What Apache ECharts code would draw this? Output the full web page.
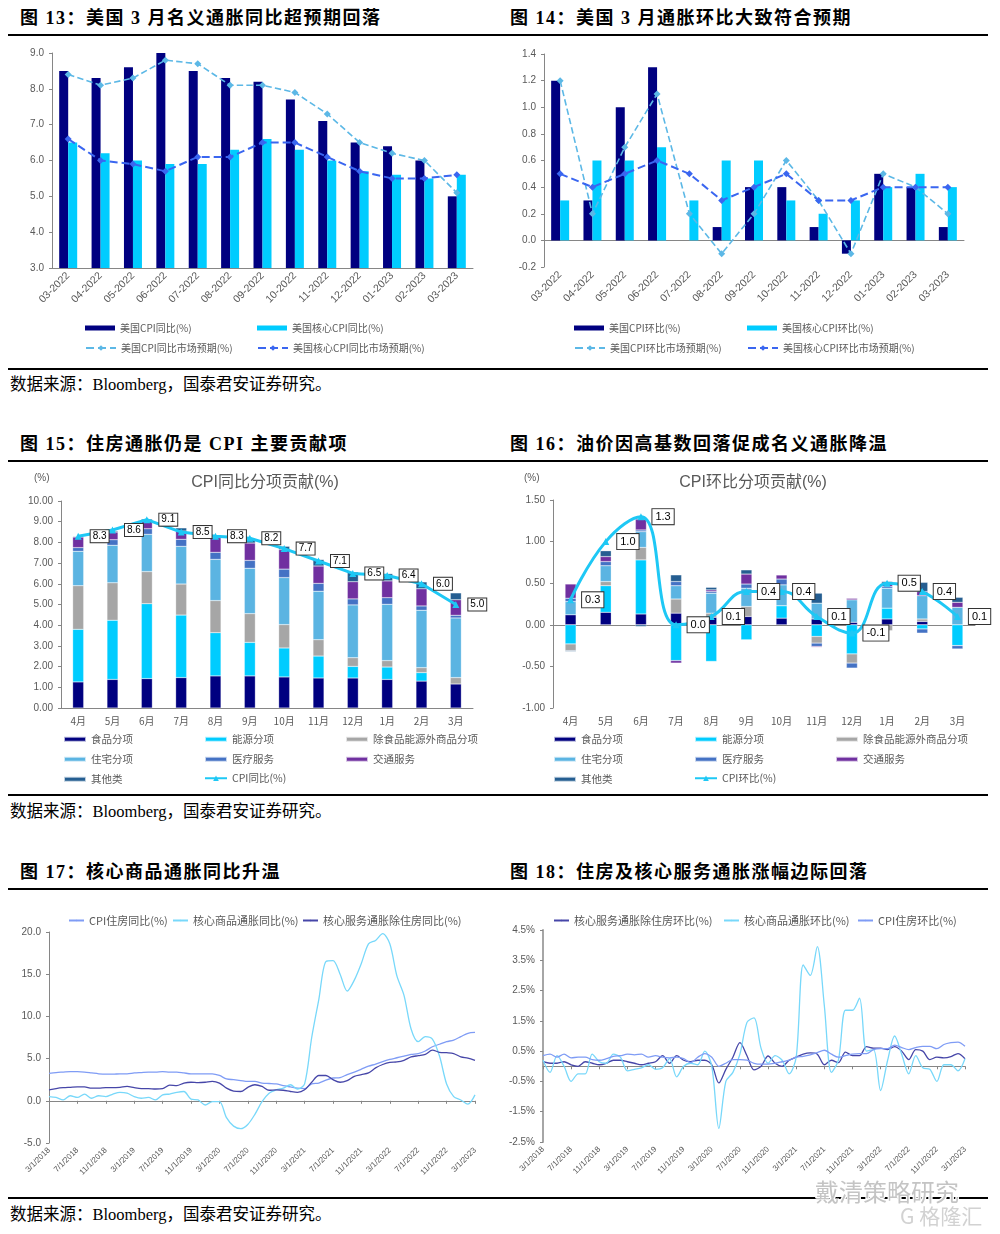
<!DOCTYPE html>
<html><head><meta charset="utf-8">
<script src="https://cdn.jsdelivr.net/npm/echarts/dist/echarts.min.js"></script>
<style>
body{margin:0;background:#fff;width:1000px;height:1234px;position:relative;overflow:hidden;font-family:"Liberation Sans","Noto Sans CJK SC",sans-serif;}
.t{position:absolute;font-family:"Liberation Serif","Noto Sans CJK SC",serif;font-weight:bold;font-size:18px;letter-spacing:1.5px;color:#000;white-space:nowrap;line-height:20px;}
.rule{position:absolute;left:8px;width:980px;height:2px;background:#000;}
.src{position:absolute;left:10px;font-family:"Liberation Serif","Noto Sans CJK SC",serif;font-size:16.5px;color:#000;white-space:nowrap;line-height:20px;}
.c{position:absolute;}
.wm{position:absolute;font-family:"Noto Sans CJK SC",sans-serif;color:#c4c4c4;white-space:nowrap;text-shadow:-1px -1px 0 #fff,1px -1px 0 #fff,-1px 1px 0 #fff,1px 1px 0 #fff;}
</style></head>
<body>
<div class="t" style="left:20px;top:8px">图 13：美国 3 月名义通胀同比超预期回落</div>
<div class="t" style="left:510px;top:8px">图 14：美国 3 月通胀环比大致符合预期</div>
<div class="rule" style="top:34px"></div>
<div class="c" id="c13" style="left:0;top:40px;width:500px;height:325px"></div>
<div class="c" id="c14" style="left:500px;top:40px;width:500px;height:325px"></div>
<div class="rule" style="top:368px"></div>
<div class="src" style="top:375px">数据来源：Bloomberg，国泰君安证券研究。</div>

<div class="t" style="left:20px;top:434px">图 15：住房通胀仍是 CPI 主要贡献项</div>
<div class="t" style="left:510px;top:434px">图 16：油价因高基数回落促成名义通胀降温</div>
<div class="rule" style="top:460px"></div>
<div class="c" id="c15" style="left:0;top:462px;width:500px;height:330px"></div>
<div class="c" id="c16" style="left:500px;top:462px;width:500px;height:330px"></div>
<div class="rule" style="top:794px"></div>
<div class="src" style="top:802px">数据来源：Bloomberg，国泰君安证券研究。</div>

<div class="t" style="left:20px;top:862px">图 17：核心商品通胀同比升温</div>
<div class="t" style="left:510px;top:862px">图 18：住房及核心服务通胀涨幅边际回落</div>
<div class="rule" style="top:888px"></div>
<div class="c" id="c17" style="left:0;top:890px;width:500px;height:305px"></div>
<div class="c" id="c18" style="left:500px;top:890px;width:500px;height:305px"></div>
<div class="rule" style="top:1197px"></div>
<div class="src" style="top:1205px">数据来源：Bloomberg，国泰君安证券研究。</div>
<div class="wm" style="left:815px;top:1173px;font-size:24px;">戴清策略研究</div>
<div class="wm" style="left:900px;top:1200px;font-size:21px;color:#d2d2d2">G 格隆汇</div>

<script>
// ---------- data: 图13 / 图14 ----------
const months13 = ['03-2022','04-2022','05-2022','06-2022','07-2022','08-2022','09-2022','10-2022','11-2022','12-2022','01-2023','02-2023','03-2023'];
const cpiYoY      = [8.5, 8.3, 8.6, 9.1, 8.5, 8.3, 8.2, 7.7, 7.1, 6.5, 6.4, 6.0, 5.0];
const coreYoY     = [6.5, 6.2, 6.0, 5.9, 5.9, 6.3, 6.6, 6.3, 6.0, 5.7, 5.6, 5.5, 5.6];
const cpiYoYExp   = [8.4, 8.1, 8.3, 8.8, 8.7, 8.1, 8.1, 7.9, 7.3, 6.5, 6.2, 6.0, 5.1];
const coreYoYExp  = [6.6, 6.0, 5.9, 5.7, 6.1, 6.1, 6.5, 6.5, 6.1, 5.7, 5.5, 5.5, 5.6];
const cpiMoM      = [1.2, 0.3, 1.0, 1.3, 0.0, 0.1, 0.4, 0.4, 0.1, -0.1, 0.5, 0.4, 0.1];
const coreMoM     = [0.3, 0.6, 0.6, 0.7, 0.3, 0.6, 0.6, 0.3, 0.2, 0.3, 0.4, 0.5, 0.4];
const cpiMoMExp   = [1.2, 0.2, 0.7, 1.1, 0.2, -0.1, 0.2, 0.6, 0.3, -0.1, 0.5, 0.4, 0.2];
const coreMoMExp  = [0.5, 0.4, 0.5, 0.6, 0.5, 0.3, 0.4, 0.5, 0.3, 0.3, 0.4, 0.4, 0.4];
const yTicks13 = [3, 9, 1];
const yTicks14 = [-0.2, 1.4, 0.2];

// ---------- data: 图15 / 图16 ----------
const months15 = ['4月','5月','6月','7月','8月','9月','10月','11月','12月','1月','2月','3月'];
const compNames = ['食品分项','能源分项','除食品能源外商品分项','住宅分项','医疗服务','交通服务','其他类'];
const yoyFood      = [1.26, 1.38, 1.42, 1.47, 1.55, 1.55, 1.50, 1.45, 1.45, 1.38, 1.30, 1.16];
const yoyEnergy    = [2.54, 2.86, 3.62, 3.02, 2.09, 1.62, 1.40, 1.06, 0.56, 0.60, 0.41, -0.03];
const yoyGoods     = [2.11, 1.81, 1.55, 1.50, 1.55, 1.39, 1.13, 0.79, 0.42, 0.31, 0.24, 0.31];
const yoyHousing   = [1.66, 1.81, 1.80, 1.82, 1.99, 2.19, 2.27, 2.34, 2.55, 2.72, 2.77, 2.88];
const yoyMedical   = [0.18, 0.27, 0.27, 0.34, 0.34, 0.38, 0.41, 0.38, 0.29, 0.32, 0.21, 0.13];
const yoyTransport = [0.51, 0.37, 0.41, 0.40, 0.71, 0.84, 0.94, 0.84, 0.83, 0.81, 0.83, 0.75];
const yoyOther     = [0.03, 0.05, 0.06, 0.15, 0.11, 0.18, 0.16, 0.31, 0.47, 0.35, 0.33, 0.33];
const yoyCPI       = [8.3, 8.6, 9.1, 8.5, 8.3, 8.2, 7.7, 7.1, 6.5, 6.4, 6.0, 5.0];
const momFood      = [0.12, 0.15, 0.13, 0.14, 0.09, 0.10, 0.08, 0.07, 0.03, 0.07, 0.04, 0.00];
const momEnergy    = [-0.23, 0.32, 0.65, -0.43, -0.44, -0.18, 0.15, -0.14, -0.35, 0.13, -0.05, -0.25];
const momGoods     = [-0.08, 0.05, 0.15, 0.17, 0.05, 0.12, 0.00, -0.08, -0.11, -0.07, 0.03, 0.00];
const momHousing   = [0.16, 0.19, 0.19, 0.16, 0.24, 0.22, 0.25, 0.19, 0.27, 0.24, 0.28, 0.21];
const momMedical   = [0.04, 0.05, 0.02, 0.05, 0.02, 0.05, 0.07, -0.04, -0.06, 0.02, -0.05, -0.04];
const momTransport = [0.17, 0.06, 0.13, -0.03, 0.02, 0.12, 0.05, -0.01, 0.02, 0.04, 0.05, 0.06];
const momOther     = [-0.01, 0.07, -0.02, 0.08, 0.03, 0.05, 0.00, 0.12, 0.00, 0.02, 0.11, 0.06];
const momCPI       = [0.3, 1.0, 1.3, 0.0, 0.1, 0.4, 0.4, 0.1, -0.1, 0.5, 0.4, 0.1];

// ---------- data: 图17 / 图18 ----------
const dates = ('3/1/2018 4/1/2018 5/1/2018 6/1/2018 7/1/2018 8/1/2018 9/1/2018 10/1/2018 11/1/2018 12/1/2018 ' +
 '1/1/2019 2/1/2019 3/1/2019 4/1/2019 5/1/2019 6/1/2019 7/1/2019 8/1/2019 9/1/2019 10/1/2019 11/1/2019 12/1/2019 ' +
 '1/1/2020 2/1/2020 3/1/2020 4/1/2020 5/1/2020 6/1/2020 7/1/2020 8/1/2020 9/1/2020 10/1/2020 11/1/2020 12/1/2020 ' +
 '1/1/2021 2/1/2021 3/1/2021 4/1/2021 5/1/2021 6/1/2021 7/1/2021 8/1/2021 9/1/2021 10/1/2021 11/1/2021 12/1/2021 ' +
 '1/1/2022 2/1/2022 3/1/2022 4/1/2022 5/1/2022 6/1/2022 7/1/2022 8/1/2022 9/1/2022 10/1/2022 11/1/2022 12/1/2022 ' +
 '1/1/2023 2/1/2023 3/1/2023').split(' ');
const housingYoY = [3.25,3.35,3.4,3.45,3.45,3.4,3.3,3.2,3.15,3.15,
  3.2,3.2,3.3,3.35,3.4,3.4,3.45,3.4,3.4,3.3,3.2,3.2,
  3.2,3.2,3.0,2.6,2.5,2.4,2.3,2.3,2.1,2.05,2.0,1.8,
  1.65,1.5,1.45,2.0,2.1,2.45,2.7,2.75,3.1,3.4,3.75,4.1,
  4.35,4.65,4.9,5.1,5.3,5.5,5.6,5.9,6.4,6.7,7.0,7.2,
  7.6,8.0,8.1];
const goodsYoY = [0.5,0.4,0.1,0.6,0.4,0.8,0.3,0.6,0.5,0.8,
  1.0,0.9,0.5,0.3,0.4,0.1,0.7,0.8,1.0,1.1,0.2,0.1,
  -0.5,-0.1,-0.1,-2.0,-3.0,-3.3,-2.8,-1.6,-0.1,0.9,1.3,1.5,
  1.9,1.4,2.0,7.5,12.0,16.5,16.6,15.0,13.0,14.3,16.3,18.6,
  19.0,19.8,18.6,14.8,12.5,8.5,7.0,7.6,7.3,5.3,2.0,0.5,
  0.1,-0.4,0.7];
const servExHousingYoY = [1.3,1.45,1.55,1.6,1.65,1.65,1.5,1.5,1.55,1.55,
  1.6,1.7,1.55,1.45,1.45,1.4,1.45,1.85,1.8,2.1,2.2,2.15,
  2.2,2.3,2.1,1.5,1.15,1.1,1.6,1.9,1.7,1.25,1.3,1.25,
  1.1,1.0,1.3,2.2,3.0,3.0,2.5,2.2,2.4,2.9,3.1,3.3,
  3.9,4.3,4.55,4.6,4.8,5.2,5.35,5.5,6.0,5.75,5.7,5.6,
  5.2,5.05,4.8];
const servExHousingMoM = [0.15,0.1,0.1,0.15,0.05,0.0,0.15,0.1,0.05,0.1,
  0.2,0.2,0.15,0.1,0.05,0.1,0.15,0.35,0.1,0.35,0.2,0.15,
  0.2,0.2,0.05,-0.55,-0.1,0.3,0.78,0.35,-0.12,0.0,0.34,0.1,
  0.0,0.2,0.3,0.4,0.44,0.4,0.05,0.2,0.12,0.47,0.35,0.35,
  0.65,0.6,0.6,0.55,0.65,0.5,0.22,0.55,0.5,0.22,0.3,0.28,
  0.32,0.42,0.25];
const goodsMoM = [0.2,-0.2,0.35,0.0,-0.5,-0.25,-0.25,0.4,0.15,0.1,
  0.4,0.3,-0.15,-0.1,-0.05,0.05,-0.1,-0.05,0.25,-0.35,0.0,0.1,
  0.05,0.5,0.0,-2.05,-0.5,-0.2,0.4,1.45,1.6,0.6,0.1,0.35,
  0.2,-0.25,0.3,3.35,3.0,3.95,2.0,-0.2,0.2,1.85,1.85,2.25,
  0.5,0.55,-0.8,0.2,1.0,0.4,-0.25,0.35,-0.05,-0.1,-0.5,0.05,
  0.05,-0.15,0.25];
const housingMoM = [0.35,0.4,0.3,0.4,0.28,0.3,0.3,0.22,0.2,0.25,
  0.33,0.35,0.4,0.38,0.4,0.3,0.35,0.3,0.28,0.3,0.25,0.12,
  0.3,0.42,0.3,0.0,0.1,0.22,0.22,0.2,0.1,0.07,0.07,0.1,
  0.15,0.2,0.3,0.33,0.38,0.45,0.53,0.4,0.3,0.35,0.4,0.42,
  0.42,0.55,0.58,0.58,0.7,0.62,0.55,0.62,0.66,0.66,0.58,0.72,
  0.78,0.8,0.66];
const yTicks17 = [-5, 20, 5];
const yTicks18 = [-2.5, 4.5, 1];

// ---------- styles ----------
const FS = '"Liberation Sans", Arial, "Noto Sans CJK SC", sans-serif';
const FC = '"Noto Sans CJK SC", "Liberation Sans", sans-serif';
const AX = '#868686', TX = '#595959';
const NAVY = '#000080', CYAN = '#00ccff';
const STACK_COLORS = ['#000080', '#00ccff', '#a6a6a6', '#5bb4e2', '#4472c4', '#7030a0', '#255e91'];
const LINE_CPI = '#1ec8f5';

function legendItem(name, left, top, w, h, fs, icon) {
  const o = {data: [name], left: left, top: top, padding: 0, selectedMode: false,
    itemWidth: w, itemHeight: h, textStyle: {fontSize: fs, color: TX, fontFamily: FC}};
  if (icon) o.icon = icon;
  return o;
}
function valueAxis(t, fmt, lineColor, lineWidth) {
  return {type: 'value', min: t[0], max: t[1], interval: t[2], splitLine: {show: false},
    axisLine: {show: true, lineStyle: {color: lineColor || AX, width: lineWidth || 1}},
    axisTick: {show: true, length: 3, lineStyle: {color: AX}},
    axisLabel: {formatter: fmt, fontSize: 10, color: TX, margin: 8, fontFamily: FS}};
}
const noEmph = {disabled: true};

// ---------- 图13 ----------
echarts.init(document.getElementById('c13')).setOption({
  animation: false,
  grid: {left: 52, top: 13, right: 27, bottom: 97, outerBoundsMode: 'none'},
  xAxis: {type: 'category', data: months13,
    axisLine: {lineStyle: {color: AX}}, axisTick: {length: 4, lineStyle: {color: AX}},
    axisLabel: {rotate: 45, fontSize: 10.5, color: TX, margin: 6, interval: 0, fontFamily: FS}},
  yAxis: valueAxis(yTicks13, v => v.toFixed(1)),
  legend: [
    legendItem('美国CPI同比(%)', 85, 283, 30, 5, 10, 'rect'),
    legendItem('美国核心CPI同比(%)', 257, 283, 30, 5, 10, 'rect'),
    legendItem('美国CPI同比市场预期(%)', 85, 303, 30, 7, 10),
    legendItem('美国核心CPI同比市场预期(%)', 257, 303, 30, 7, 10)
  ],
  series: [
    {name: '美国CPI同比(%)', type: 'bar', data: cpiYoY, barWidth: 9, barGap: '0%', itemStyle: {color: NAVY}, emphasis: noEmph},
    {name: '美国核心CPI同比(%)', type: 'bar', data: coreYoY, barWidth: 9, itemStyle: {color: CYAN}, emphasis: noEmph},
    {name: '美国CPI同比市场预期(%)', type: 'line', data: cpiYoYExp, symbol: 'diamond', symbolSize: 7,
      lineStyle: {type: 'dashed', width: 1.6, color: '#5cb8e6'}, itemStyle: {color: '#5cb8e6'}, emphasis: noEmph},
    {name: '美国核心CPI同比市场预期(%)', type: 'line', data: coreYoYExp, symbol: 'diamond', symbolSize: 7,
      lineStyle: {type: 'dashed', width: 2, color: '#3a66f0'}, itemStyle: {color: '#3a66f0'}, emphasis: noEmph}
  ]
});

// ---------- 图14 ----------
echarts.init(document.getElementById('c14')).setOption({
  animation: false,
  grid: {left: 44, top: 14, right: 36, bottom: 98, outerBoundsMode: 'none'},
  xAxis: [
    {type: 'category', data: months13, axisLine: {onZero: true, lineStyle: {color: AX}},
      axisTick: {length: 4, lineStyle: {color: AX}}, axisLabel: {show: false}},
    {type: 'category', data: months13, position: 'bottom', axisLine: {show: false, onZero: false}, axisTick: {show: false},
      axisLabel: {rotate: 45, fontSize: 10.5, color: TX, margin: 6, interval: 0, fontFamily: FS}}
  ],
  yAxis: valueAxis(yTicks14, v => v.toFixed(1)),
  legend: [
    legendItem('美国CPI环比(%)', 74, 283, 30, 5, 10, 'rect'),
    legendItem('美国核心CPI环比(%)', 247, 283, 30, 5, 10, 'rect'),
    legendItem('美国CPI环比市场预期(%)', 74, 303, 30, 7, 10),
    legendItem('美国核心CPI环比市场预期(%)', 247, 303, 30, 7, 10)
  ],
  series: [
    {name: '美国CPI环比(%)', type: 'bar', data: cpiMoM, barWidth: 9, barGap: '0%', itemStyle: {color: NAVY}, emphasis: noEmph},
    {name: '美国核心CPI环比(%)', type: 'bar', data: coreMoM, barWidth: 9, itemStyle: {color: CYAN}, emphasis: noEmph},
    {name: '美国CPI环比市场预期(%)', type: 'line', data: cpiMoMExp, symbol: 'diamond', symbolSize: 7,
      lineStyle: {type: 'dashed', width: 1.6, color: '#5cb8e6'}, itemStyle: {color: '#5cb8e6'}, emphasis: noEmph},
    {name: '美国核心CPI环比市场预期(%)', type: 'line', data: coreMoMExp, symbol: 'diamond', symbolSize: 7,
      lineStyle: {type: 'dashed', width: 2, color: '#3a66f0'}, itemStyle: {color: '#3a66f0'}, emphasis: noEmph}
  ]
});

// ---------- 图15 / 图16 helpers ----------
function compLegends(lineName, colX) {
  const rows = [272, 292, 312];
  const arr = compNames.map((n, i) => legendItem(n, colX[i % 3], rows[Math.floor(i / 3)], 22, 5, 10.5, 'rect'));
  arr.push(legendItem(lineName, colX[1], rows[2] - 1, 22, 7, 10.5));
  return arr;
}
function compSeries(sets) {
  return compNames.map((n, i) => ({name: n, type: 'bar', stack: 'a', data: sets[i], barWidth: 11,
    itemStyle: {color: STACK_COLORS[i], borderColor: 'rgba(255,255,255,0.7)', borderWidth: 0.4}, emphasis: noEmph}));
}
function cpiLine(name, data, smooth, lab) {
  return {name: name, type: 'line', data: data, smooth: smooth, symbol: 'triangle', symbolSize: 7, z: 5,
    lineStyle: {width: 3, color: LINE_CPI}, itemStyle: {color: LINE_CPI}, emphasis: noEmph,
    label: {show: true, position: 'right', distance: lab.d, formatter: p => p.value.toFixed(1),
      backgroundColor: '#fff', borderColor: '#333', borderWidth: 1, padding: lab.p,
      fontSize: lab.fs, color: '#000', fontFamily: FS, lineHeight: lab.fs}};
}
function titleGraphic(text, cx, pctX) {
  return [
    {type: 'text', x: cx, y: 21, style: {text: text, align: 'center', verticalAlign: 'middle', fill: TX, font: '16px ' + FS}},
    {type: 'text', x: pctX, y: 16, style: {text: '(%)', align: 'left', verticalAlign: 'middle', fill: TX, font: '10px ' + FS}}
  ];
}

// ---------- 图15 ----------
echarts.init(document.getElementById('c15')).setOption({
  animation: false,
  grid: {left: 61, top: 39, right: 27, bottom: 84, outerBoundsMode: 'none'},
  graphic: titleGraphic('CPI同比分项贡献(%)', 265, 34),
  xAxis: {type: 'category', data: months15, axisLine: {lineStyle: {color: AX}}, axisTick: {length: 4, lineStyle: {color: AX}},
    axisLabel: {fontSize: 10, color: TX, margin: 8, interval: 0, fontFamily: FC}},
  yAxis: valueAxis([0, 10, 1], v => v.toFixed(2)),
  legend: compLegends('CPI同比(%)', [63, 204, 345]),
  series: compSeries([yoyFood, yoyEnergy, yoyGoods, yoyHousing, yoyMedical, yoyTransport, yoyOther])
    .concat([cpiLine('CPI同比(%)', yoyCPI, false, {d: 9, p: [1, 2], fs: 10})])
});

// ---------- 图16 ----------
echarts.init(document.getElementById('c16')).setOption({
  animation: false,
  grid: {left: 53, top: 38, right: 25, bottom: 84, outerBoundsMode: 'none'},
  graphic: titleGraphic('CPI环比分项贡献(%)', 253, 24),
  xAxis: [
    {type: 'category', data: months15, axisLine: {onZero: true, lineStyle: {color: AX}},
      axisTick: {length: 4, lineStyle: {color: AX}}, axisLabel: {show: false}},
    {type: 'category', data: months15, position: 'bottom', axisLine: {show: false, onZero: false}, axisTick: {show: false},
      axisLabel: {fontSize: 10, color: TX, margin: 8, interval: 0, fontFamily: FC}}
  ],
  yAxis: valueAxis([-1, 1.5, 0.5], v => v.toFixed(2)),
  legend: compLegends('CPI环比(%)', [53, 194, 335]),
  series: compSeries([momFood, momEnergy, momGoods, momHousing, momMedical, momTransport, momOther])
    .concat([cpiLine('CPI环比(%)', momCPI, 0.45, {d: 8, p: [2, 3], fs: 11})])
});

// ---------- 图17 / 图18 helpers ----------
const C_HOUSING = '#7f9cf5', C_GOODS = '#78d8fa', C_SERV = '#4646a8';
function timeXAxes() {
  return [
    {type: 'category', data: dates, boundaryGap: false, axisLine: {onZero: true, lineStyle: {color: AX}},
      axisTick: {interval: 3, length: 3, lineStyle: {color: AX}}, axisLabel: {show: false}},
    {type: 'category', data: dates, boundaryGap: false, position: 'bottom', axisLine: {show: false, onZero: false},
      axisTick: {show: false}, axisLabel: {interval: 3, rotate: 45, fontSize: 8, color: TX, margin: 6, fontFamily: FS}}
  ];
}
function tLine(name, data, color) {
  return {name: name, type: 'line', data: data, symbol: 'none', smooth: 0.3, emphasis: noEmph,
    lineStyle: {width: 1.3, color: color}, itemStyle: {color: color}};
}

// ---------- 图17 ----------
echarts.init(document.getElementById('c17')).setOption({
  animation: false,
  grid: {left: 49, top: 42, right: 25, bottom: 52, outerBoundsMode: 'none'},
  xAxis: timeXAxes(),
  yAxis: Object.assign(valueAxis(yTicks17, v => v.toFixed(1)), {}),
  legend: [
    legendItem('CPI住房同比(%)', 68, 25, 15, 2, 11),
    legendItem('核心商品通胀同比(%)', 172, 25, 15, 2, 11),
    legendItem('核心服务通胀除住房同比(%)', 302, 25, 15, 2, 11)
  ],
  series: [
    tLine('CPI住房同比(%)', housingYoY, C_HOUSING),
    tLine('核心商品通胀同比(%)', goodsYoY, C_GOODS),
    tLine('核心服务通胀除住房同比(%)', servExHousingYoY, C_SERV)
  ]
});

// ---------- 图18 ----------
echarts.init(document.getElementById('c18')).setOption({
  animation: false,
  grid: {left: 43, top: 40, right: 35, bottom: 53, outerBoundsMode: 'none'},
  xAxis: timeXAxes(),
  yAxis: valueAxis(yTicks18, v => v.toFixed(1) + '%', '#a6a6a6', 2),
  legend: [
    legendItem('核心服务通胀除住房环比(%)', 53, 25, 15, 2, 11),
    legendItem('核心商品通胀环比(%)', 223, 25, 15, 2, 11),
    legendItem('CPI住房环比(%)', 357, 25, 15, 2, 11)
  ],
  series: [
    tLine('核心服务通胀除住房环比(%)', servExHousingMoM, C_SERV),
    tLine('核心商品通胀环比(%)', goodsMoM, C_GOODS),
    tLine('CPI住房环比(%)', housingMoM, C_HOUSING)
  ]
});
</script>
</body></html>
